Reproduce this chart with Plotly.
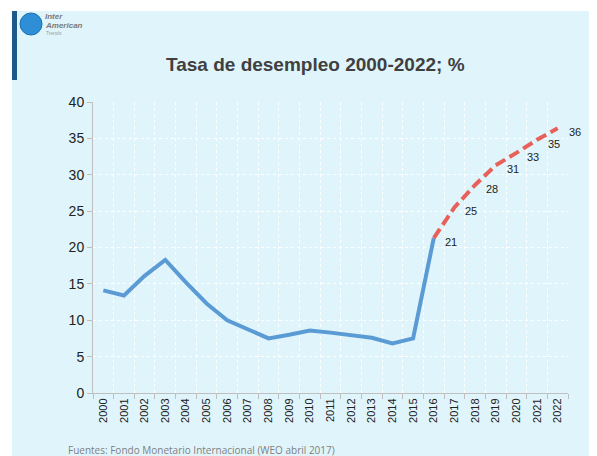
import plotly.graph_objects as go

years = [str(y) for y in range(2000, 2023)]
hist_years = [str(y) for y in range(2000, 2017)]
hist_vals = [14.1, 13.4, 16.1, 18.3, 15.2, 12.3, 10.0, 8.7, 7.5, 8.0, 8.6, 8.3, 8.0, 7.6, 6.8, 7.5, 21.3]
proj_years = [str(y) for y in range(2016, 2023)]
proj_vals = [21.3, 25.5, 28.6, 31.3, 33.0, 34.8, 36.4]
proj_labels = ["21", "25", "28", "31", "33", "35", "36"]

title_text = "Tasa de desempleo 2000-2022; %"
source_text = "Fuentes: Fondo Monetario Internacional (WEO abril 2017)"

W, H = 589, 448   # page body has an 8px margin
L, R, T, B = 85, 29, 94, 63
PW, PH = W - L - R, H - T - B


def px(xr):  # reference-picture x -> paper
    return (xr - 8 - L) / PW


def py(yr):  # reference-picture y -> paper
    return (H - B - (yr - 8)) / PH


fig = go.Figure()
fig.add_trace(go.Scatter(x=hist_years, y=hist_vals, mode="lines",
                         line=dict(color="#5B9BD5", width=4), showlegend=False, hoverinfo="skip"))
fig.add_trace(go.Scatter(x=proj_years, y=proj_vals, mode="lines",
                         line=dict(color="#E8605A", width=4, dash="11px,5px"),
                         showlegend=False, hoverinfo="skip"))

for x, y, t in zip(proj_years, proj_vals, proj_labels):
    fig.add_annotation(x=years.index(x), y=y, text=t, showarrow=False, xanchor="left", yanchor="middle",
                       xshift=9, yshift=-4,
                       font=dict(family="Liberation Sans, Arial", size=11, color="#222222"))

# background panel
fig.add_shape(type="rect", xref="paper", yref="paper", layer="below",
              x0=px(12), x1=px(600), y0=py(460), y1=py(11),
              fillcolor="#E0F5FB", line=dict(width=0))
# dark blue bar
fig.add_shape(type="rect", xref="paper", yref="paper", layer="below",
              x0=px(12), x1=px(17), y0=py(80), y1=py(11),
              fillcolor="#1D5A8A", line=dict(width=0))
# logo globe
fig.add_shape(type="circle", xref="paper", yref="paper",
              x0=px(20), x1=px(42), y0=py(35), y1=py(13),
              fillcolor="#2E8FD6", line=dict(color="#1A6FB0", width=1))
fig.add_annotation(xref="paper", yref="paper", x=px(43), y=py(17),
                   text="<i><b>Inter</b></i>", showarrow=False, xanchor="left", yanchor="middle",
                   font=dict(family="Liberation Sans, Arial", size=8, color="#7A7A7A"))
fig.add_annotation(xref="paper", yref="paper", x=px(43), y=py(25),
                   text="<i><b>American</b></i>", showarrow=False, xanchor="left", yanchor="middle",
                   font=dict(family="Liberation Sans, Arial", size=8, color="#7A7A7A"))
fig.add_annotation(xref="paper", yref="paper", x=px(44), y=py(33),
                   text="Trends", showarrow=False, xanchor="left", yanchor="middle",
                   font=dict(family="Liberation Sans, Arial", size=5, color="#9A9A9A"))

fig.add_annotation(xref="paper", yref="paper", x=px(315), y=py(64),
                   text="<b>" + title_text + "</b>", showarrow=False, xanchor="center", yanchor="middle",
                   font=dict(family="Liberation Sans, Arial", size=19, color="#404040"))
fig.add_annotation(xref="paper", yref="paper", x=px(66), y=py(450),
                   text=source_text, showarrow=False, xanchor="left", yanchor="middle",
                   font=dict(family="Open Sans, Liberation Sans", size=10, color="#7F7F7F"))

fig.update_layout(
    width=W, height=H,
    margin=dict(l=L, r=R, t=T, b=B),
    paper_bgcolor="white", plot_bgcolor="rgba(0,0,0,0)",
    xaxis=dict(type="category", categoryorder="array", categoryarray=years,
               tickson="boundaries", ticks="outside", ticklen=5, tickcolor="#BFBFBF",
               showline=True, linecolor="#BFBFBF", linewidth=1,
               showgrid=True, gridcolor="white", griddash="dot", gridwidth=1,
               tickangle=-90, tickfont=dict(family="Liberation Sans, Arial", size=11, color="#222222"),
               range=[-0.5, 22.5]),
    yaxis=dict(range=[0, 40], dtick=5, ticks="outside", ticklen=5, tickcolor="#BFBFBF",
               showline=True, linecolor="#BFBFBF", linewidth=1,
               showgrid=True, gridcolor="white", griddash="dot", gridwidth=1, zeroline=False,
               tickfont=dict(family="Liberation Sans, Arial", size=14, color="#222222")),
)

fig.write_html("out.html")
